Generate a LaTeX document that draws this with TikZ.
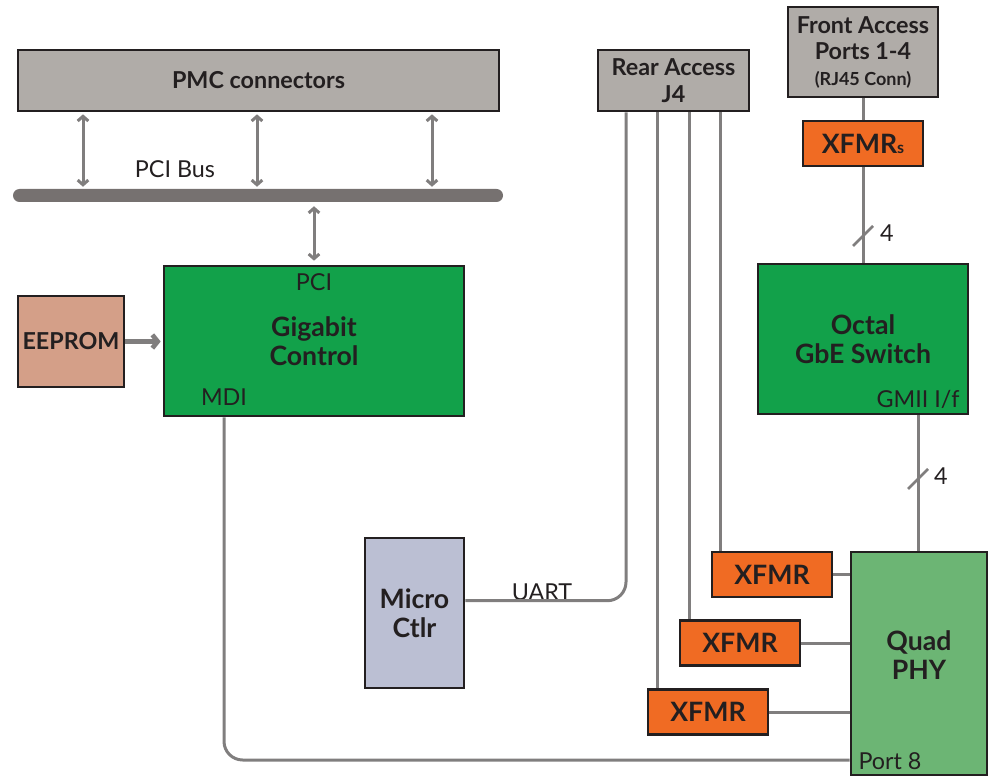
\documentclass[tikz,border=0pt]{standalone}
\usepackage{fontspec}
\setmainfont{Lato}
\usepackage{xcolor}
\definecolor{ColText}{RGB}{35,31,32}
\definecolor{ColLine}{RGB}{35,31,32}
\definecolor{ColGray}{RGB}{176,172,168}
\definecolor{ColGreen}{RGB}{18,161,74}
\definecolor{ColPhy}{RGB}{108,181,116}
\definecolor{ColOrange}{RGB}{240,107,35}
\definecolor{ColRom}{RGB}{212,159,136}
\definecolor{ColMcu}{RGB}{187,191,211}
\definecolor{ColWire}{RGB}{128,126,126}
\definecolor{ColBus}{RGB}{118,113,112}
\usepackage{tikz}
\usetikzlibrary{arrows.meta}
\newcommand{\BoxFont}{\fontsize{20}{22}\selectfont\bfseries}
\newcommand{\HeadFont}{\fontsize{17.5}{20}\selectfont\bfseries}
\newcommand{\PinFont}{\fontsize{17.5}{20}\selectfont}
\tikzstyle{Block}=[draw=ColLine,line width=2pt,inner sep=0pt,align=center,
text=ColText,font=\BoxFont]
\tikzstyle{GrayBlock}=[Block,fill=ColGray,font=\HeadFont]
\tikzstyle{GreenBlock}=[Block,fill=ColGreen]
\tikzstyle{Xfmr}=[Block,fill=ColOrange,minimum width=90pt,minimum height=33.75pt]
\tikzstyle{Pin}=[text=ColText,font=\PinFont,inner sep=0pt]
\tikzstyle{Wire}=[draw=ColWire,line width=2.25pt]
\tikzstyle{BusArrow}=[draw=ColWire,line width=2.25pt,
{Straight Barb[length=3.5pt,width=8pt]}-{Straight Barb[length=3.5pt,width=8pt]}]
\tikzstyle{Feed}=[draw=ColWire,line width=3.5pt,
-{Straight Barb[length=4pt,width=10pt]}]

\begin{document}
\begin{tikzpicture}[x=.75pt,y=-.75pt]
    \useasboundingbox(0,0)rectangle(993,777);
    \node[GrayBlock,minimum width=360.75pt,minimum height=45.75pt](pmc)
        at(258.5,80.5){PMC connectors};
    \node[fill=ColBus,rounded corners=4.875pt,minimum width=367.5pt,
        minimum height=9.75pt,inner sep=0pt](bus)at(258,195.5){};
    \node[Pin](pcibus)at(175,169){PCI Bus};
    \node[GrayBlock,minimum width=113.25pt,minimum height=45.75pt](rear)
        at(673.5,80.5){Rear Access\\J4};
    \node[GrayBlock,minimum width=112.5pt,minimum height=67.5pt](front)
        at(863,52){Front Access\\Ports 1-4\\[-1pt]
        {\fontsize{13.5}{15}\selectfont(RJ45 Conn)}};
    \node[Xfmr](xfs)at(863,143.5)
        {XFMR{\fontsize{12}{12}\selectfont s}};
    \node[GreenBlock,minimum width=225pt,minimum height=112.5pt](gig)
        at(314,341){Gigabit\\Control};
    \node[Pin](pci)at(314,282){PCI};
    \node[Pin](mdi)at(224,397){MDI};
    \node[Block,fill=ColRom,font=\HeadFont,minimum width=79.5pt,
        minimum height=68.25pt](rom)at(71,341.5){EEPROM};
    \node[GreenBlock,minimum width=157.5pt,minimum height=112.5pt](oct)
        at(863,339){Octal\\GbE Switch};
    \node[Pin](gmii)at(918,399){GMII I/f};
    \node[Block,fill=ColMcu,minimum width=74.25pt,minimum height=112.5pt](mcu)
        at(414.5,613){Micro\\Ctlr};
    \node[Pin](uart)at(542,592){UART};
    \node[Xfmr](xf1)at(772,574.5){XFMR};
    \node[Xfmr](xf2)at(740,643){XFMR};
    \node[Xfmr](xf3)at(708,712){XFMR};
    \node[Block,fill=ColPhy,minimum width=102pt,minimum height=167.25pt](phy)
        at(919,663.5){};
    \node[font=\BoxFont,text=ColText,align=center,inner sep=0pt](phyname)
        at(919,655){Quad\\PHY};
    \node[Pin](port)at(890,761){Port 8};
    \coordinate(a1)at(83,0);
    \coordinate(a2)at(257,0);
    \coordinate(a3)at(432,0);
    \coordinate(a4)at(314,0);
    \coordinate(j0)at(626,0);
    \coordinate(j1)at(657,0);
    \coordinate(j2)at(689,0);
    \coordinate(j3)at(720,0);
    \coordinate(g)at(918,0);
    \coordinate(m)at(224,760);
    \coordinate(s1)at(863,236);
    \coordinate(s2)at(918,479);
    \draw[BusArrow,shorten <=1.5pt,shorten >=1.5pt](pmc.south-|a1)--(bus.north-|a1);
    \draw[BusArrow,shorten <=1.5pt,shorten >=1.5pt](pmc.south-|a2)--(bus.north-|a2);
    \draw[BusArrow,shorten <=1.5pt,shorten >=1.5pt](pmc.south-|a3)--(bus.north-|a3);
    \draw[BusArrow,shorten <=3pt,shorten >=3pt](bus.south-|a4)--(gig.north-|a4);
    \draw[Feed,shorten >=1.5pt](rom.east)--(gig.west|-rom.east);
    \draw[Wire,rounded corners=14pt](mcu.east|-uart.south)-|(rear.south-|j0);
    \draw[Wire](rear.south-|j1)--(xf3.north-|j1);
    \draw[Wire](rear.south-|j2)--(xf2.north-|j2);
    \draw[Wire](rear.south-|j3)--(xf1.north-|j3);
    \draw[Wire](front.south)--(xfs.north);
    \draw[Wire](xfs.south)--(oct.north);
    \draw[Wire](oct.south-|g)--(phy.north-|g);
    \draw[Wire](xf1.east)--(phy.west|-xf1.east);
    \draw[Wire](xf2.east)--(phy.west|-xf2.east);
    \draw[Wire](xf3.east)--(phy.west|-xf3.east);
    \draw[Wire,rounded corners=14pt](gig.south-|m)|-(phy.west|-m);
    \draw[Wire,line width=2pt]([shift={(-10,10)}]s1)--([shift={(10,-10)}]s1);
    \draw[Wire,line width=2pt]([shift={(-10,10)}]s2)--([shift={(10,-10)}]s2);
    \node[Pin](n1)at(887,233){4};
    \node[Pin](n2)at(941,476){4};
\end{tikzpicture}
\end{document}
